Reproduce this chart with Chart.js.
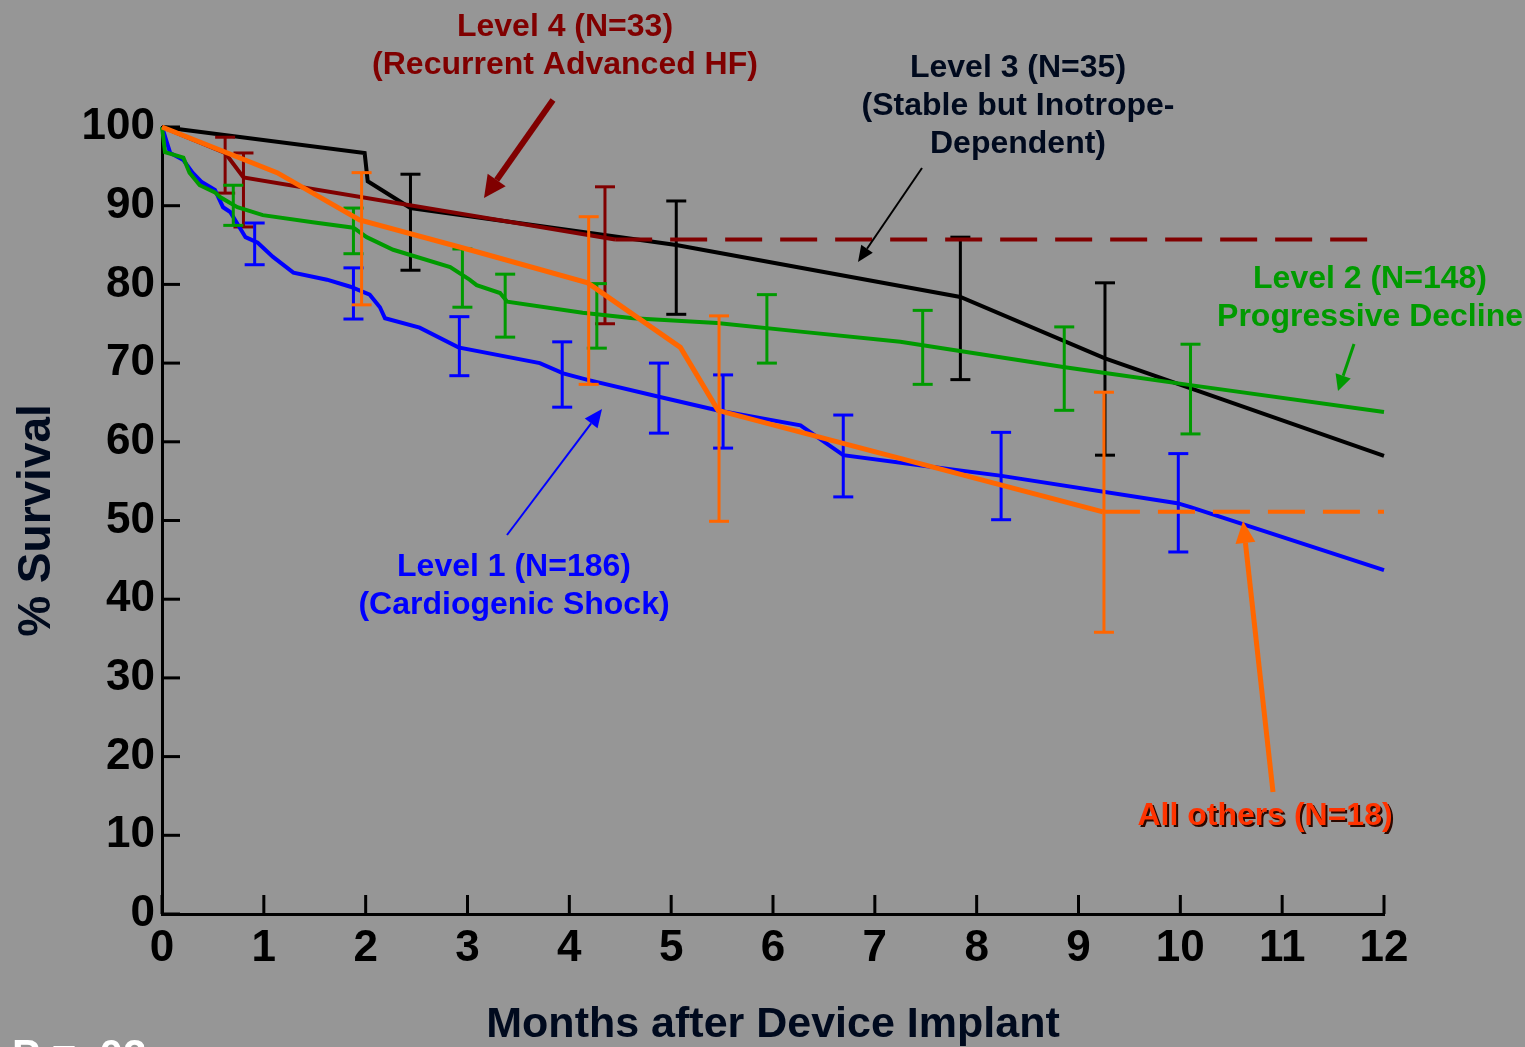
<!DOCTYPE html>
<html>
<head>
<meta charset="utf-8">
<script src="https://cdn.jsdelivr.net/npm/chart.js@4.4.1/dist/chart.umd.min.js"></script>
<style>
    html, body { margin: 0; padding: 0; background: #969696; }
</style>
</head>
<body>
<canvas id="SurvivalGraph" width="1525" height="1047"></canvas>
<script>
// tick labels
const monthTicks = [0, 1, 2, 3, 4, 5, 6, 7, 8, 9, 10, 11, 12];
const survivalTicks = [0, 10, 20, 30, 40, 50, 60, 70, 80, 90, 100];

// Level 1 (cardiogenic shock)
const level1Months = [0, 0.01, 0.08, 0.21, 0.30, 0.39, 0.52, 0.60, 0.67, 0.82, 0.94, 1.09, 1.29, 1.62, 1.85, 2.04, 2.14, 2.19, 2.53, 2.91, 3.71, 3.94, 4.17, 4.89, 5.45, 6.27, 6.69, 7.57, 8.23, 9.97, 10.10, 12];
const level1Survival = [100, 99.6, 96.7, 95.8, 94.2, 93.0, 92.0, 89.8, 89.2, 86.0, 85.3, 83.5, 81.5, 80.6, 79.7, 78.7, 77.1, 75.7, 74.5, 72.0, 70.0, 68.7, 67.9, 65.7, 64.0, 62.1, 58.3, 56.8, 55.7, 52.2, 51.7, 43.7];
const level1BarMonths = [0.91, 1.88, 2.92, 3.93, 4.88, 5.51, 6.69, 8.24, 9.98];
const level1BarLow = [82.5, 75.6, 68.4, 64.4, 61.1, 59.2, 53.0, 50.1, 46.0];
const level1BarHigh = [87.8, 82.1, 75.9, 72.7, 70.0, 68.5, 63.4, 61.2, 58.5];

// Level 2 (progressive decline)
const level2Months = [0, 0.03, 0.21, 0.27, 0.37, 0.52, 0.57, 0.74, 0.99, 1.48, 1.88, 2.01, 2.27, 2.83, 3.02, 3.09, 3.32, 3.39, 4.13, 4.63, 5.45, 6.27, 7.25, 8.85, 9.28, 10.10, 12];
const level2Survival = [100, 96.8, 96.1, 94.2, 92.6, 91.7, 91.1, 89.8, 88.8, 87.9, 87.2, 86.0, 84.4, 82.2, 80.6, 79.9, 78.9, 77.8, 76.4, 75.7, 75.1, 74.0, 72.7, 69.5, 68.7, 67.2, 63.8];
const level2BarMonths = [0.70, 1.88, 2.95, 3.37, 4.27, 5.94, 7.47, 8.86, 10.10];
const level2BarLow = [87.5, 83.9, 77.1, 73.3, 71.9, 70.0, 67.3, 64.0, 61.0];
const level2BarHigh = [92.6, 89.7, 84.5, 81.3, 80.1, 78.7, 76.7, 74.6, 72.4];

// Level 3 (stable but inotrope-dependent)
const level3Months = [0, 1.99, 2.02, 2.44, 5.05, 7.84, 9.26, 12];
const level3Survival = [100, 96.7, 93.1, 89.7, 85.0, 78.4, 70.6, 58.2];
const level3BarMonths = [2.44, 5.05, 7.84, 9.26];
const level3BarLow = [81.8, 76.2, 67.9, 58.3];
const level3BarHigh = [94.0, 90.6, 86.0, 80.2];

// Level 4 (recurrent advanced HF)
const level4Months = [0, 0.62, 0.80, 4.45];
const level4Survival = [100, 96.7, 93.6, 85.7];
const level4TailMonths = [4.45, 12];
const level4TailSurvival = [85.7, 85.7];
const level4BarMonths = [0.62, 0.80, 4.35];
const level4BarLow = [91.6, 87.3, 75.0];
const level4BarHigh = [98.7, 96.7, 92.4];

// All others
const otherMonths = [0, 1.13, 1.94, 3.02, 4.18, 5.09, 5.46, 9.24];
const otherSurvival = [100, 94.2, 88.2, 84.4, 80.2, 72.0, 64.0, 51.1];
const otherTailMonths = [9.24, 12];
const otherTailSurvival = [51.1, 51.1];
const otherBarMonths = [1.96, 4.19, 5.47, 9.25];
const otherBarLow = [77.4, 67.3, 49.9, 35.8];
const otherBarHigh = [94.2, 88.6, 76.0, 66.3];

const FONT = "'Liberation Sans', Arial, sans-serif";

function curve(months, survival) {
    return months.map(function (m, i) {
        return { x: m, y: survival[i] };
    });
}

function barPoints(months, low, high) {
    let points = [];
    months.forEach(function (m, i) {
        points.push({ x: m, y: low[i] }, { x: m, y: high[i] }, { x: m, y: null });
    });
    return points;
}

function lineSet(data, color, width, dash) {
    return {
        data: data,
        borderColor: color,
        backgroundColor: color,
        borderWidth: width,
        borderDash: dash || [],
        pointRadius: 0,
        lineTension: 0,
        fill: false,
        clip: false
    };
}

function barSet(data, color, width) {
    return {
        data: data,
        borderColor: color,
        backgroundColor: color,
        borderWidth: width,
        pointStyle: 'line',
        pointRadius: 10,
        pointBorderWidth: width,
        pointBorderColor: color,
        spanGaps: false,
        lineTension: 0,
        fill: false,
        clip: false
    };
}

function arrow(ctx, x1, y1, x2, y2, color, width, headLen, headWide) {
    let angle = Math.atan2(y2 - y1, x2 - x1);
    let bx = x2 - headLen * Math.cos(angle);
    let by = y2 - headLen * Math.sin(angle);
    ctx.strokeStyle = color;
    ctx.fillStyle = color;
    ctx.lineWidth = width;
    ctx.beginPath();
    ctx.moveTo(x1, y1);
    ctx.lineTo(bx, by);
    ctx.stroke();
    ctx.beginPath();
    ctx.moveTo(x2, y2);
    ctx.lineTo(bx + headWide * Math.sin(angle), by - headWide * Math.cos(angle));
    ctx.lineTo(bx - headWide * Math.sin(angle), by + headWide * Math.cos(angle));
    ctx.closePath();
    ctx.fill();
}

function label(ctx, lines, x, y, color, step) {
    ctx.fillStyle = color;
    lines.forEach(function (text, i) {
        ctx.fillText(text, x, y + i * step);
    });
}

const decorations = {
    id: 'decorations',
    beforeDatasetsDraw: function (chart) {
        let ctx = chart.ctx;
        let area = chart.chartArea;
        let xs = chart.scales.x;
        let ys = chart.scales.y;
        ctx.save();
        ctx.strokeStyle = '#000';
        ctx.lineWidth = 3;
        survivalTicks.forEach(function (v) {
            let py = ys.getPixelForValue(v);
            ctx.beginPath();
            ctx.moveTo(area.left, py);
            ctx.lineTo(area.left + 18, py);
            ctx.stroke();
        });
        monthTicks.forEach(function (v) {
            let px = xs.getPixelForValue(v);
            ctx.beginPath();
            ctx.moveTo(px, area.bottom);
            ctx.lineTo(px, area.bottom - 19);
            ctx.stroke();
        });
        ctx.restore();
    },
    afterDraw: function (chart) {
        let ctx = chart.ctx;
        ctx.save();
        ctx.font = "bold 32px " + FONT;
        ctx.textAlign = 'center';
        ctx.textBaseline = 'middle';
        label(ctx, ["Level 4 (N=33)", "(Recurrent Advanced HF)"], 565, 27, '#800000', 38);
        label(ctx, ["Level 3 (N=35)", "(Stable but Inotrope-", "Dependent)"], 1018, 68, '#000a1e', 38);
        label(ctx, ["Level 2 (N=148)", "Progressive Decline"], 1370, 279, '#009a00', 38);
        label(ctx, ["Level 1 (N=186)", "(Cardiogenic Shock)"], 514, 567, '#0000ff', 38);

        ctx.fillStyle = '#2a0800';
        ctx.fillText("All others (N=18)", 1267, 818);
        ctx.fillStyle = '#ff3300';
        ctx.fillText("All others (N=18)", 1265, 816);

        arrow(ctx, 553, 100, 484, 198, '#800000', 6, 22, 11);
        arrow(ctx, 922, 168, 858, 262, '#000', 2, 16, 7);
        arrow(ctx, 1354, 344, 1338, 391, '#009a00', 3, 16, 8);
        arrow(ctx, 507, 535, 602, 409, '#0000ff', 2, 18, 8);
        arrow(ctx, 1273, 792, 1243, 521, '#ff6600', 5, 22, 10);

        ctx.textAlign = 'left';
        ctx.textBaseline = 'alphabetic';
        ctx.font = "bold 42px " + FONT;
        ctx.fillStyle = '#ffffff';
        ctx.fillText("P = .02", 12, 1069);
        ctx.restore();
    }
};

let survivalContext = document.getElementById("SurvivalGraph").getContext("2d");
let survivalChart = new Chart(survivalContext, {
    type: "line",
    data: {
        datasets: [
            lineSet(curve(otherMonths, otherSurvival), '#ff6600', 5),
            lineSet(curve(otherTailMonths, otherTailSurvival), '#ff6600', 4, [37, 18]),
            barSet(barPoints(otherBarMonths, otherBarLow, otherBarHigh), '#ff6600', 3),
            lineSet(curve(level2Months, level2Survival), '#009a00', 4),
            barSet(barPoints(level2BarMonths, level2BarLow, level2BarHigh), '#009a00', 3),
            lineSet(curve(level1Months, level1Survival), '#0000ff', 4),
            barSet(barPoints(level1BarMonths, level1BarLow, level1BarHigh), '#0000ff', 3),
            lineSet(curve(level4Months, level4Survival), '#800000', 4),
            lineSet(curve(level4TailMonths, level4TailSurvival), '#800000', 4, [37, 18]),
            barSet(barPoints(level4BarMonths, level4BarLow, level4BarHigh), '#800000', 3),
            lineSet(curve(level3Months, level3Survival), '#000000', 4),
            barSet(barPoints(level3BarMonths, level3BarLow, level3BarHigh), '#000000', 3)
        ]
    },
    options: {
        responsive: false,
        animation: false,
        events: [],
        layout: { padding: { top: 127, right: 141, left: 0, bottom: 0 } },
        plugins: {
            legend: { display: false },
            tooltip: { enabled: false }
        },
        scales: {
            x: {
                type: 'linear',
                min: 0,
                max: 12,
                afterBuildTicks: function (scale) {
                    scale.ticks = monthTicks.map(v => ({ value: v }));
                },
                afterFit: function (scale) { scale.height = 133; },
                grid: { display: false, drawTicks: false },
                border: { display: true, color: '#000', width: 3 },
                ticks: {
                    color: '#000',
                    padding: 8,
                    maxRotation: 0,
                    autoSkip: false,
                    font: { family: FONT, weight: 'bold', size: 44 }
                },
                title: {
                    display: true,
                    text: 'Months after Device Implant',
                    color: '#000a1e',
                    padding: 0,
                    font: { family: FONT, weight: 'bold', size: 43, lineHeight: 1.0 }
                }
            },
            y: {
                min: 0,
                max: 100,
                afterBuildTicks: function (scale) {
                    scale.ticks = survivalTicks.map(v => ({ value: v }));
                },
                afterFit: function (scale) { scale.width = 162; },
                grid: { display: false, drawTicks: false },
                border: { display: true, color: '#000', width: 3 },
                ticks: {
                    color: '#000',
                    padding: 7,
                    autoSkip: false,
                    font: { family: FONT, weight: 'bold', size: 44 }
                },
                title: {
                    display: true,
                    text: '% Survival',
                    color: '#000a1e',
                    padding: { top: 10, bottom: 0 },
                    font: { family: FONT, weight: 'bold', size: 46 }
                }
            }
        }
    },
    plugins: [decorations]
});
</script>
</body>
</html>
